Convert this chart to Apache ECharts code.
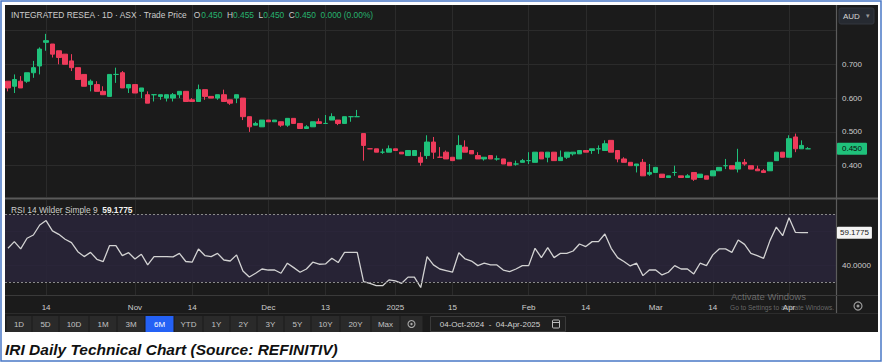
<!DOCTYPE html>
<html>
<head>
<meta charset="utf-8">
<script src="https://cdn.jsdelivr.net/npm/echarts@6/dist/echarts.min.js"></script>
<style>
html,body{margin:0;padding:0;background:#fff;}
#c{width:883px;height:363px;}
</style>
</head>
<body>
<div id="c"></div>
<script>
// ---------------- data ----------------
const dates = [
'2024-10-04','2024-10-07','2024-10-08','2024-10-09','2024-10-10','2024-10-11','2024-10-14','2024-10-15','2024-10-16','2024-10-17',
'2024-10-18','2024-10-21','2024-10-22','2024-10-23','2024-10-24','2024-10-25','2024-10-28','2024-10-29','2024-10-30','2024-10-31',
'2024-11-01','2024-11-04','2024-11-05','2024-11-06','2024-11-07','2024-11-08','2024-11-11','2024-11-12','2024-11-13','2024-11-14',
'2024-11-15','2024-11-18','2024-11-19','2024-11-20','2024-11-21','2024-11-22','2024-11-25','2024-11-26','2024-11-27','2024-11-28',
'2024-11-29','2024-12-02','2024-12-03','2024-12-04','2024-12-05','2024-12-06','2024-12-09','2024-12-10','2024-12-11','2024-12-12',
'2024-12-13','2024-12-16','2024-12-17','2024-12-18','2024-12-19','2024-12-20','2024-12-23','2024-12-24','2024-12-27','2024-12-30',
'2024-12-31','2025-01-02','2025-01-03','2025-01-06','2025-01-07','2025-01-08','2025-01-09','2025-01-10','2025-01-13','2025-01-14',
'2025-01-15','2025-01-16','2025-01-17','2025-01-20','2025-01-21','2025-01-22','2025-01-23','2025-01-24','2025-01-28','2025-01-29',
'2025-01-30','2025-01-31','2025-02-03','2025-02-04','2025-02-05','2025-02-06','2025-02-07','2025-02-10','2025-02-11','2025-02-12',
'2025-02-13','2025-02-14','2025-02-17','2025-02-18','2025-02-19','2025-02-20','2025-02-21','2025-02-24','2025-02-25','2025-02-26',
'2025-02-27','2025-02-28','2025-03-03','2025-03-04','2025-03-05','2025-03-06','2025-03-07','2025-03-10','2025-03-11','2025-03-12',
'2025-03-13','2025-03-14','2025-03-17','2025-03-18','2025-03-19','2025-03-20','2025-03-21','2025-03-24','2025-03-25','2025-03-26',
'2025-03-27','2025-03-28','2025-03-31','2025-04-01','2025-04-02','2025-04-03','2025-04-04'
];
const open = [
0.650,0.635,0.650,0.650,0.675,0.695,0.765,0.760,0.740,0.730,
0.710,0.690,0.670,0.640,0.640,0.620,0.605,0.670,0.675,0.630,
0.640,0.620,0.610,0.610,0.605,0.600,0.600,0.610,0.620,0.595,
0.590,0.625,0.605,0.600,0.610,0.595,0.600,0.600,0.545,0.520,
0.515,0.535,0.530,0.530,0.520,0.540,0.525,0.510,0.515,0.530,
0.525,0.535,0.535,0.525,0.545,0.545,0.495,0.450,0.450,0.440,
0.440,0.450,0.440,0.430,0.430,0.425,0.430,0.470,0.425,0.440,
0.425,0.420,0.455,0.445,0.430,0.420,0.430,0.420,0.420,0.410,
0.405,0.410,0.415,0.410,0.440,0.425,0.440,0.415,0.425,0.435,
0.435,0.445,0.445,0.450,0.445,0.475,0.445,0.420,0.410,0.400,
0.410,0.375,0.380,0.375,0.365,0.380,0.370,0.365,0.380,0.365,
0.370,0.370,0.385,0.400,0.400,0.390,0.410,0.400,0.390,0.385,
0.385,0.415,0.440,0.425,0.485,0.450,0.450
];
const close = [
0.630,0.655,0.630,0.675,0.690,0.745,0.770,0.730,0.720,0.700,
0.690,0.655,0.635,0.650,0.620,0.610,0.670,0.670,0.630,0.640,
0.615,0.630,0.585,0.610,0.610,0.610,0.610,0.620,0.590,0.590,
0.625,0.605,0.600,0.610,0.590,0.585,0.610,0.545,0.515,0.525,
0.535,0.530,0.535,0.520,0.540,0.525,0.510,0.515,0.530,0.525,
0.525,0.545,0.525,0.545,0.545,0.545,0.460,0.450,0.440,0.440,
0.450,0.445,0.435,0.445,0.445,0.410,0.470,0.440,0.425,0.420,
0.415,0.460,0.440,0.435,0.420,0.425,0.420,0.420,0.405,0.400,
0.405,0.415,0.415,0.440,0.420,0.440,0.415,0.425,0.440,0.440,
0.445,0.440,0.450,0.450,0.465,0.440,0.420,0.410,0.400,0.405,
0.370,0.380,0.395,0.365,0.370,0.380,0.365,0.370,0.360,0.375,
0.360,0.385,0.395,0.400,0.390,0.410,0.405,0.390,0.385,0.380,
0.410,0.440,0.425,0.480,0.450,0.460,0.450
];
const low = [
0.620,0.615,0.630,0.645,0.660,0.670,0.740,0.720,0.700,0.700,
0.680,0.655,0.635,0.620,0.620,0.610,0.605,0.645,0.630,0.615,
0.615,0.600,0.585,0.590,0.595,0.590,0.590,0.600,0.590,0.590,
0.590,0.595,0.600,0.595,0.590,0.580,0.585,0.535,0.500,0.520,
0.515,0.530,0.530,0.515,0.515,0.525,0.510,0.510,0.515,0.525,
0.525,0.535,0.520,0.525,0.530,0.545,0.415,0.450,0.440,0.435,
0.440,0.445,0.435,0.430,0.430,0.400,0.420,0.420,0.425,0.420,
0.415,0.420,0.440,0.435,0.420,0.415,0.420,0.415,0.405,0.400,
0.400,0.410,0.405,0.410,0.420,0.410,0.415,0.415,0.420,0.430,
0.435,0.440,0.435,0.435,0.445,0.440,0.410,0.410,0.400,0.380,
0.370,0.370,0.380,0.365,0.365,0.370,0.365,0.365,0.355,0.365,
0.360,0.370,0.385,0.390,0.390,0.380,0.400,0.390,0.385,0.380,
0.385,0.415,0.425,0.425,0.440,0.450,0.450
];
const high = [
0.650,0.670,0.665,0.675,0.710,0.750,0.790,0.760,0.740,0.730,
0.730,0.690,0.670,0.655,0.650,0.635,0.670,0.690,0.680,0.640,
0.640,0.630,0.620,0.610,0.610,0.610,0.615,0.620,0.620,0.600,
0.640,0.625,0.605,0.610,0.625,0.595,0.610,0.600,0.545,0.530,
0.535,0.535,0.535,0.530,0.540,0.540,0.525,0.520,0.530,0.540,
0.550,0.555,0.535,0.545,0.545,0.565,0.495,0.450,0.450,0.450,
0.460,0.450,0.440,0.445,0.445,0.440,0.490,0.485,0.455,0.445,
0.425,0.490,0.475,0.445,0.440,0.425,0.430,0.430,0.420,0.410,
0.415,0.420,0.440,0.440,0.440,0.440,0.440,0.445,0.440,0.440,
0.445,0.445,0.450,0.460,0.475,0.475,0.445,0.425,0.410,0.405,
0.420,0.405,0.395,0.375,0.370,0.400,0.370,0.375,0.380,0.375,
0.370,0.385,0.395,0.420,0.400,0.450,0.420,0.400,0.400,0.390,
0.410,0.440,0.440,0.490,0.495,0.475,0.455
];
const rsi = [
50.0,53.9,49.6,55.9,57.8,63.7,66.3,60.2,58.2,55.3,
53.3,48.0,45.1,47.6,43.5,42.2,51.6,51.6,45.7,47.4,
43.7,46.5,40.2,45.1,45.1,45.1,44.9,47.0,42.2,41.8,
49.6,45.7,45.1,47.0,43.1,42.5,46.1,36.6,33.1,35.3,
37.8,37.2,37.2,35.3,41.2,38.6,35.9,37.8,41.8,40.6,
40.8,44.1,41.6,47.6,47.6,47.6,30.4,29.4,28.0,28.0,
31.4,30.8,29.4,33.0,33.0,26.9,45.1,40.2,37.8,36.9,
35.9,47.4,43.7,42.5,39.8,41.2,40.2,40.2,37.2,36.3,
37.8,39.8,39.8,50.0,44.5,50.4,44.5,47.0,47.0,48.4,
52.5,51.0,53.9,53.9,58.4,50.0,44.5,42.2,39.6,41.2,
33.9,37.2,37.2,34.3,35.9,39.8,37.8,37.8,34.9,41.2,
39.8,46.1,49.6,49.6,47.6,54.9,52.3,47.0,45.7,44.1,
54.5,62.5,57.4,68.0,59.4,59.2,59.1775
];
// change shown in the header for the last bar (absolute, percent)
const lastChange = [0.000, 0.00];
// candles drawn flat (open == close) and their colour in the reference
const dojiColor = {57: 'down', 68: 'down', 126: 'up'};

const tickDates  = ['2024-10-14','2024-11-01','2024-11-14','2024-12-02','2024-12-13','2025-01-02','2025-01-15','2025-02-03','2025-02-14','2025-03-03','2025-03-14','2025-04-01'];
const tickLabels = ['14','Nov','14','Dec','13','2025','15','Feb','14','Mar','14','Apr'];
const priceLabels = [0.4, 0.5, 0.6, 0.7];
const priceGridLines = [0.4, 0.5, 0.6, 0.7, 0.8];
const rsiLabels = [40];
const rsiGridLines = [40, 60];
const rsiBand = [30, 70];
const rangeButtons = ['1D','5D','10D','1M','3M','6M','YTD','1Y','2Y','3Y','5Y','10Y','20Y','Max'];
const activeButton = '6M';
const rangeText = '04-Oct-2024  -  04-Apr-2025';
const title = 'INTEGRATED RESEA · 1D · ASX · Trade Price';
const caption = 'IRI Daily Technical Chart (Source: REFINITIV)';

// ---------------- style ----------------
const UP = '#1fc17b', DOWN = '#ee3b5b';
const BG = '#1b1b1b', GRID = '#2b2b2b', TXT = '#cdcdcd';
const FONT = '"Liberation Sans", Arial, sans-serif';
const CLEAR = 'rgba(0,0,0,0)';

const tickIdx = tickDates.map(d => dates.indexOf(d));
const labelOf = {};
tickIdx.forEach((v, k) => labelOf[v] = tickLabels[k]);
const last = dates.length - 1;
const chgText = lastChange[0].toFixed(3) + ' (' + lastChange[1].toFixed(2) + '%)';

const candleData = dates.map((d, i) => {
  const item = { value: [i, open[i], close[i], low[i], high[i]] };
  if (dojiColor[i]) {
    const c = dojiColor[i] === 'up' ? UP : DOWN;
    item.itemStyle = { color: c, color0: c, borderColor: c, borderColor0: c, borderColorDoji: c };
  }
  return item;
});
const rsiData = rsi.map((v, i) => [i, v]);

const X_MIN = -0.47, X_MAX = 130.4;

const chart = echarts.init(document.getElementById('c'), null, { renderer: 'svg' });

const btnEdges = [6, 32, 59, 89, 117, 145, 174, 203, 230, 257, 284, 311, 340, 371, 400];
const graphics = [
  { type: 'rect', z: -30, shape: { x: 1, y: 1, width: 880, height: 360 }, style: { fill: '#fff', stroke: '#4a78c6', lineWidth: 1.5 } },
  { type: 'rect', z: -29, shape: { x: 5, y: 5, width: 873, height: 327 }, style: { fill: BG } },
  { type: 'line', z: 5, shape: { x1: 836.5, y1: 5, x2: 836.5, y2: 313 }, style: { stroke: '#5c5c5c', lineWidth: 1.2 } },
  { type: 'line', z: 5, shape: { x1: 5, y1: 198.5, x2: 878, y2: 198.5 }, style: { stroke: '#5a5a5a', lineWidth: 2 } },
  { type: 'line', z: 5, shape: { x1: 5, y1: 295.5, x2: 878, y2: 295.5 }, style: { stroke: '#3a3a3a', lineWidth: 1 } },
  { type: 'line', z: 5, shape: { x1: 5, y1: 313.5, x2: 878, y2: 313.5 }, style: { stroke: '#2c2c2c', lineWidth: 1 } },
  { type: 'text', z: 10, left: 11, top: 11, style: {
      text: title + '   O{v|' + open[last].toFixed(3) + '}  H{v|' + high[last].toFixed(3) + '}  L{v|' + low[last].toFixed(3) + '}  C{v|' + close[last].toFixed(3) + '}  {v|' + chgText + '}',
      font: '8.4px ' + FONT, fill: TXT, rich: { v: { fill: '#27b36f', font: '8.4px ' + FONT } } } },
  { type: 'text', z: 10, left: 11, top: 206, style: {
      text: 'RSI 14 Wilder Simple 9  {b|' + rsi[last].toFixed(4) + '}', font: '8.4px ' + FONT, fill: TXT,
      rich: { b: { fill: '#f2f2f2', font: 'bold 8.4px ' + FONT } } } },
  { type: 'rect', z: 10, shape: { x: 839, y: 8, width: 35, height: 16, r: 2 }, style: { fill: '#262a31', stroke: '#33373e' } },
  { type: 'text', z: 11, left: 843, top: 12, style: { text: 'AUD', font: '8px ' + FONT, fill: '#d6d6d6' } },
  { type: 'text', z: 11, left: 866, top: 12, style: { text: '▾', font: '7px ' + FONT, fill: '#999' } },
  { type: 'circle', z: 10, shape: { cx: 858, cy: 306, r: 4 }, style: { fill: 'none', stroke: '#9a9a9a', lineWidth: 1.2 } },
  { type: 'circle', z: 10, shape: { cx: 858, cy: 306, r: 1.5 }, style: { fill: '#9a9a9a' } },
  { type: 'text', z: 12, left: 731, top: 291, style: { text: 'Activate Windows', font: '9.5px ' + FONT, fill: 'rgba(200,200,200,0.45)' } },
  { type: 'text', z: 12, left: 730, top: 304, style: { text: 'Go to Settings to activate Windows.', font: '6.6px ' + FONT, fill: 'rgba(200,200,200,0.45)' } },
  { type: 'text', z: 10, left: 5, top: 341, style: { text: caption, font: 'italic bold 15.5px ' + FONT, fill: '#111' } }
];
rangeButtons.forEach((b, k) => {
  const x0 = btnEdges[k] + 0.5, x1 = btnEdges[k + 1] - 0.5;
  const act = b === activeButton;
  graphics.push({ type: 'rect', z: 8, shape: { x: x0, y: 316, width: x1 - x0, height: 16 }, style: { fill: act ? '#2461f5' : '#2a2a2a' } });
  graphics.push({ type: 'text', z: 9, x: (x0 + x1) / 2, y: 324, style: { text: b, font: '8px ' + FONT, fill: act ? '#fff' : '#c2c2c2', align: 'center', verticalAlign: 'middle' } });
});
graphics.push({ type: 'rect', z: 8, shape: { x: 400.5, y: 316, width: 22, height: 16 }, style: { fill: '#2a2a2a' } });
graphics.push({ type: 'circle', z: 9, shape: { cx: 411.5, cy: 324, r: 3.5 }, style: { fill: 'none', stroke: '#aaa', lineWidth: 1.1 } });
graphics.push({ type: 'circle', z: 9, shape: { cx: 411.5, cy: 324, r: 1.2 }, style: { fill: '#aaa' } });
graphics.push({ type: 'rect', z: 8, shape: { x: 430.5, y: 316.5, width: 135, height: 15 }, style: { fill: '#1f1f1f', stroke: '#3a3a3a' } });
graphics.push({ type: 'text', z: 9, x: 490, y: 324, style: { text: rangeText, font: '8px ' + FONT, fill: '#d2d2d2', align: 'center', verticalAlign: 'middle' } });
graphics.push({ type: 'rect', z: 9, shape: { x: 552.5, y: 320, width: 7, height: 8, r: 1 }, style: { fill: 'none', stroke: '#bbb', lineWidth: 1 } });
graphics.push({ type: 'line', z: 9, shape: { x1: 552.5, y1: 322.5, x2: 559.5, y2: 322.5 }, style: { stroke: '#bbb', lineWidth: 1 } });

const option = {
  animation: false,
  backgroundColor: 'transparent',
  graphic: graphics,
  grid: [
    { left: 5, right: 47, top: 5, height: 192 },
    { left: 5, right: 47, top: 200, height: 95 }
  ],
  xAxis: [
    { type: 'value', gridIndex: 0, min: X_MIN, max: X_MAX, axisLine: { show: false },
      axisTick: { show: false, customValues: tickIdx }, axisLabel: { show: false },
      splitLine: { show: true, lineStyle: { color: GRID, width: 1 } } },
    { type: 'value', gridIndex: 1, min: X_MIN, max: X_MAX, axisLine: { show: false },
      axisTick: { show: false, customValues: tickIdx },
      axisLabel: { show: true, customValues: tickIdx, formatter: v => labelOf[Math.round(v)] || '', color: TXT, fontSize: 8, fontFamily: FONT, margin: 8 },
      splitLine: { show: true, lineStyle: { color: GRID, width: 1 } } }
  ],
  yAxis: [
    { type: 'value', gridIndex: 0, position: 'right', min: 0.3074, max: 0.8754, axisLine: { show: false },
      axisTick: { show: false, customValues: priceGridLines },
      axisLabel: { customValues: priceLabels, formatter: v => v.toFixed(3), color: TXT, fontSize: 8, fontFamily: FONT, margin: 6 },
      splitLine: { show: true, lineStyle: { color: GRID, width: 1 } } },
    { type: 'value', gridIndex: 1, position: 'right', min: 22.5, max: 78.4, axisLine: { show: false },
      axisTick: { show: false, customValues: rsiGridLines },
      axisLabel: { customValues: rsiLabels, formatter: v => v.toFixed(4), color: TXT, fontSize: 8, fontFamily: FONT, margin: 6 },
      splitLine: { show: true, lineStyle: { color: '#302b39', width: 1 } } }
  ],
  series: [
    { type: 'candlestick', xAxisIndex: 0, yAxisIndex: 0, barWidth: 5, clip: false,
      data: candleData,
      itemStyle: { color: UP, color0: DOWN, borderColor: UP, borderColor0: DOWN, borderColorDoji: UP, borderWidth: 1 },
      markLine: { silent: true, symbol: 'none', animation: false,
        lineStyle: { color: CLEAR, width: 1, type: 'solid' },
        label: { show: true, position: 'end', distance: 1, formatter: close[last].toFixed(3),
          backgroundColor: UP, color: '#0c0c0c', fontSize: 8, fontFamily: FONT, padding: [2, 5, 2, 5], borderRadius: 1 },
        data: [{ yAxis: close[last] }] } },
    { type: 'line', xAxisIndex: 1, yAxisIndex: 1, data: rsiData, showSymbol: false, symbol: 'none',
      lineStyle: { color: '#d2d2d2', width: 1.3 },
      markArea: { silent: true, itemStyle: { color: '#29243a', opacity: 0.85 }, data: [[{ yAxis: rsiBand[0] }, { yAxis: rsiBand[1] }]] },
      markLine: { silent: true, symbol: 'none', animation: false,
        data: [
          { yAxis: rsiBand[0], lineStyle: { color: '#8a8a8a', type: [2, 2], width: 1 }, label: { show: false } },
          { yAxis: rsiBand[1], lineStyle: { color: '#8a8a8a', type: [2, 2], width: 1 }, label: { show: false } },
          { yAxis: rsi[last], lineStyle: { color: CLEAR, width: 1, type: 'solid' },
            label: { show: true, position: 'end', distance: 1, formatter: rsi[last].toFixed(4), backgroundColor: '#f4f4f4',
              color: '#1a1a1a', fontSize: 8, fontFamily: FONT, padding: [2, 3, 2, 3], borderRadius: 1 } }
        ] } }
  ]
};
chart.setOption(option);
</script>
</body>
</html>
